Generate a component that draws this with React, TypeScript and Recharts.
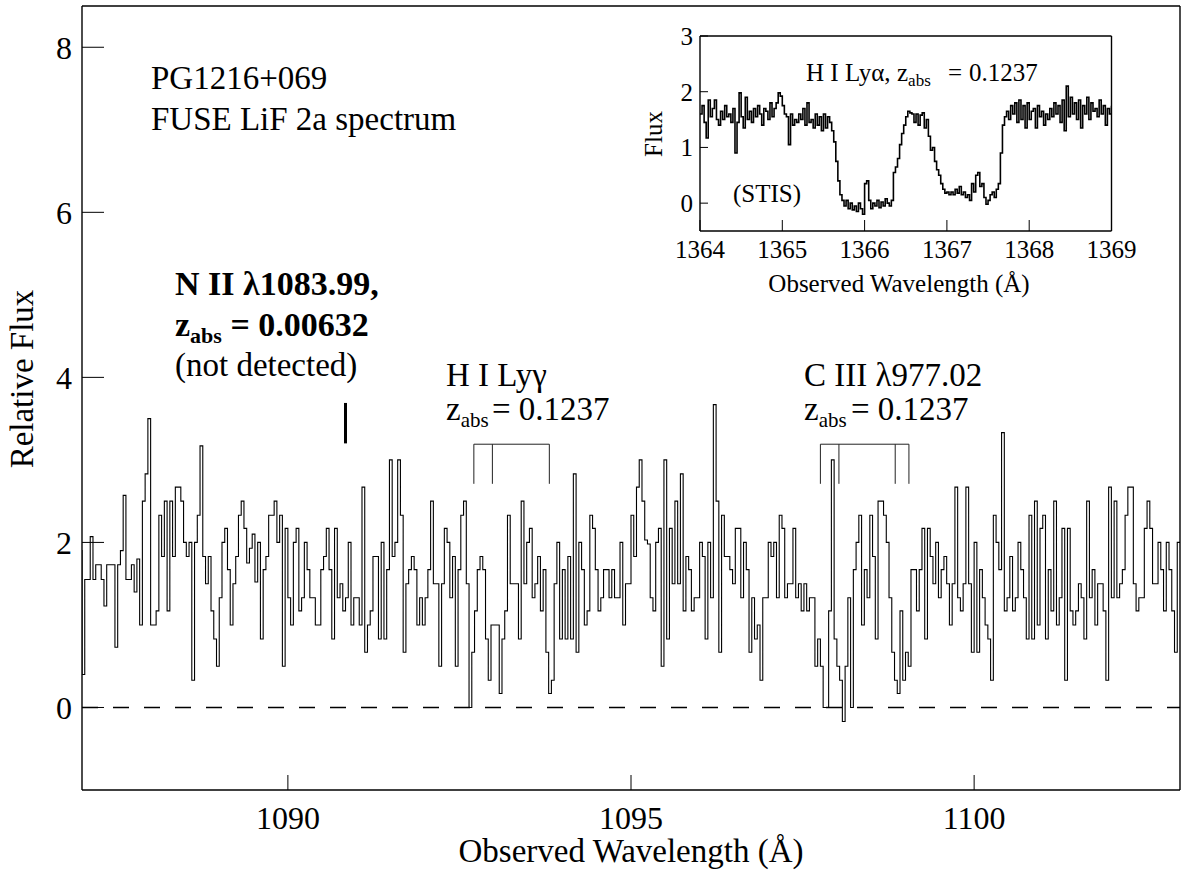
import { LineChart, Line, XAxis, YAxis, ReferenceLine } from 'recharts'

const SERIF = '"Liberation Serif", "Times New Roman", Times, serif'
const W = 1182
const H = 876

// FUSE LiF 2a flux, one value per 0.04 Å bin; first bin starts at 1086.96 Å
const fuseStart = 1086.96
const fuseBin = 0.04
const fuseFlux = [
  1.9,
  0.4, 1.55, 1.55, 2.07, 1.55, 1.73, 1.73, 1.55, 1.23, 1.73, 1.73, 1.73, 0.73, 1.73, 1.9, 2.57, 1.55, 1.55, 1.73, 1.4,
  1.8, 1.0, 2.5, 2.83, 3.5, 1.0, 1.0, 1.17, 2.33, 1.83, 2.5, 1.17, 2.5, 1.83, 2.67, 2.67, 2.5, 2.0, 1.83, 2.0,
  0.33, 2.0, 2.33, 3.17, 1.83, 1.5, 1.83, 1.17, 0.83, 0.5, 1.33, 2.0, 2.17, 1.67, 1.0, 1.5, 1.83, 2.33, 2.5, 2.17,
  1.75, 1.93, 2.1, 1.52, 2.0, 0.83, 1.67, 1.83, 2.33, 2.33, 2.5, 2.0, 2.33, 0.5, 2.17, 1.33, 1.0, 2.0, 2.17, 1.17,
  1.33, 2.0, 1.67, 1.33, 1.33, 1.0, 1.0, 1.67, 1.83, 2.17, 1.67, 0.83, 2.17, 1.33, 1.5, 1.17, 1.33, 2.0, 1.0, 1.33,
  1.33, 1.0, 2.67, 0.67, 1.0, 1.17, 1.83, 1.83, 0.83, 2.0, 0.83, 1.67, 3.0, 1.83, 2.0, 3.0, 2.33, 0.67, 1.5, 1.67,
  1.83, 1.67, 1.0, 1.33, 1.0, 1.33, 1.67, 2.5, 1.5, 1.5, 0.5, 1.5, 2.17, 2.0, 1.33, 1.83, 0.5, 1.67, 2.33, 2.5,
  1.5, 0.0, 0.67, 1.17, 1.67, 1.83, 1.67, 0.83, 0.33, 1.0, 1.0, 1.0, 0.17, 0.83, 1.17, 2.33, 1.5, 1.5, 1.5, 0.83,
  2.5, 1.5, 2.0, 2.17, 1.33, 1.5, 1.83, 1.17, 1.67, 0.67, 0.17, 0.33, 1.5, 2.0, 0.83, 1.67, 0.83, 1.83, 0.83, 2.83,
  0.67, 2.0, 1.67, 1.0, 1.17, 2.33, 2.17, 1.67, 1.17, 1.33, 1.67, 1.67, 1.33, 1.67, 1.33, 1.33, 2.0, 1.0, 1.5, 1.5,
  2.33, 1.83, 2.67, 3.0, 2.5, 2.03, 1.98, 1.33, 1.17, 2.0, 2.17, 0.5, 3.0, 0.83, 2.17, 1.5, 2.5, 1.5, 2.83, 1.17,
  1.83, 1.67, 1.17, 1.33, 1.33, 2.0, 1.83, 0.83, 2.0, 1.33, 3.67, 2.5, 0.67, 2.33, 1.83, 1.83, 1.67, 1.5, 2.17, 2.17,
  1.33, 2.0, 1.67, 0.67, 1.33, 0.83, 1.0, 0.33, 1.33, 1.33, 2.0, 1.83, 2.0, 1.33, 2.33, 2.17, 1.33, 1.5, 1.5, 2.17,
  1.33, 1.5, 1.17, 1.5, 1.17, 1.33, 1.33, 0.5, 0.83, 0.5, 0.0, 0.0, 1.17, 3.0, 0.83, 0.5, 0.33, -0.17, 0.5, 1.33,
  0.0, 1.67, 2.0, 2.33, 1.0, 1.67, 1.33, 2.33, 1.83, 0.83, 2.5, 2.5, 2.33, 2.0, 1.33, 0.67, 0.33, 0.17, 1.17, 0.33,
  0.67, 0.5, 1.67, 1.67, 1.17, 1.67, 2.17, 0.83, 2.17, 1.83, 1.5, 2.0, 1.33, 1.67, 1.83, 1.5, 1.0, 1.5, 2.67, 1.33,
  1.17, 1.5, 2.67, 1.5, 0.67, 2.0, 0.67, 1.67, 1.33, 1.0, 0.83, 0.33, 2.33, 2.0, 1.67, 3.33, 1.17, 1.33, 1.83, 1.17,
  1.33, 2.0, 1.67, 1.33, 0.83, 2.33, 0.83, 2.5, 1.0, 2.17, 2.33, 0.83, 1.67, 1.17, 2.5, 1.0, 1.33, 2.17, 0.33, 2.17,
  1.17, 1.0, 1.17, 1.5, 1.33, 0.83, 2.5, 1.33, 1.67, 1.0, 1.5, 1.5, 1.17, 0.33, 2.67, 1.33, 2.5, 1.33, 1.5, 1.67,
  2.33, 2.67, 2.67, 1.5, 1.17, 1.33, 1.33, 2.17, 2.5, 2.17, 1.5, 1.5, 2.0, 1.67, 1.17, 2.0, 1.67, 1.17, 0.67, 2.0,
  2.0,
]

// STIS Lyα cut-out, one value per 0.025 Å bin from 1364.000 Å
const stisStart = 1364.0
const stisBin = 0.025
const stisFlux = [
  1.6, 1.75, 1.45, 1.17, 1.85, 1.55, 1.7, 1.85, 1.5, 1.4, 1.65, 1.5, 1.75, 1.55, 1.6, 1.45, 1.7, 0.9, 1.45, 1.98,
  1.55, 1.35, 1.9, 1.5, 1.65, 1.45, 1.7, 1.55, 1.75, 1.6, 1.4, 1.7, 1.65, 1.5, 1.8, 1.55, 1.7, 1.8, 1.98, 1.92,
  1.75, 1.6, 1.55, 1.05, 1.6, 1.4, 1.5, 1.45, 1.6, 1.5, 1.7, 1.4, 1.8, 1.45, 1.5, 1.35, 1.6, 1.4, 1.55, 1.3,
  1.6, 1.35, 1.55, 1.45, 1.3, 1.1, 0.75, 0.4, 0.15, 0.05, -0.05, 0.05, -0.1, 0.0, -0.12, -0.05, -0.15, 0.0, -0.1, -0.2,
  0.35, 0.4, 0.05, -0.1, 0.0, -0.05, 0.05, -0.08, 0.02, -0.05, 0.08, 0.0, -0.05, 0.05, 0.55, 0.65, 0.8, 1.05, 1.25, 1.4,
  1.55, 1.65, 1.62, 1.6, 1.45, 1.6, 1.4, 1.58, 1.62, 1.35, 1.5, 1.2, 0.95, 1.0, 0.75, 0.6, 0.5, 0.35, 0.25, 0.18,
  0.2, 0.15, 0.2, 0.15, 0.25, 0.18, 0.3, 0.15, 0.2, 0.1, 0.15, 0.05, 0.35, 0.2, 0.5, 0.55, 0.3, 0.35, 0.1, -0.02,
  0.05, 0.15, 0.2, 0.1, 0.25, 0.35, 0.9, 1.4, 1.55, 1.65, 1.5, 1.75, 1.6, 1.8, 1.45, 1.85, 1.5, 1.75, 1.35, 1.8,
  1.5, 1.65, 1.7, 1.35, 1.75, 1.55, 1.65, 1.4, 1.6, 1.5, 1.7, 1.55, 1.8, 1.6, 1.75, 1.45, 1.85, 1.3, 2.1, 1.55,
  1.9, 1.6, 1.8, 1.5, 1.85, 1.35, 1.75, 1.6, 1.9, 1.5, 1.8, 1.65, 1.7, 1.55, 1.85, 1.6, 1.75, 1.4, 1.7, 1.6,
  1.75,
]

const mainXTicks = [1090, 1095, 1100]
const mainXMinor = [1088, 1089, 1091, 1092, 1093, 1094, 1096, 1097, 1098, 1099, 1101, 1102]
const mainYTicks = [0, 2, 4, 6, 8]
const mainYMinor = [-0.5, 0.5, 1, 1.5, 2.5, 3, 3.5, 4.5, 5, 5.5, 6.5, 7, 7.5]

const insetXTicks = [1364, 1365, 1366, 1367, 1368, 1369]
const insetYTicks = [0, 1, 2, 3]
const insetXMinor = Array.from({ length: 51 }, (_, i) => 1364 + i / 10).filter((_, i) => i % 10 !== 0)

// line markers, Å
const nIIMark = 1090.84
const lyGammaMarks = [1092.71, 1092.98, 1093.81]
const cIIIMarks = [1097.76, 1098.03, 1098.85, 1099.05]
const markTop = 3.19
const markFoot = 2.71

const fuseData = fuseFlux.map((f, i) => ({ w: +(fuseStart + i * fuseBin).toFixed(3), f }))
const stisData = stisFlux.map((f, i) => ({ w: +(stisStart + i * stisBin).toFixed(3), f }))

const tickFont = (size: number) => ({ fill: '#000', fontSize: size, fontFamily: SERIF })
const axisStroke = { stroke: '#000', strokeWidth: 1.4 }
const tickStroke = { stroke: '#000', strokeWidth: 1 }

// every axis is 1px thick so that paired major/minor axes sit on the frame
function MainPanel() {
  const ax = { xAxisId: 'b', yAxisId: 'l' }
  const xDom: [number, number] = [1087, 1103]
  const yDom: [number, number] = [-1, 8.5]
  return (
    <LineChart width={W} height={H} data={fuseData} margin={{ top: 4, right: 0, bottom: 84, left: 80 }}>
      <XAxis xAxisId="b" dataKey="w" type="number" domain={xDom} allowDataOverflow ticks={mainXTicks}
        interval={0} height={1} tickSize={-15} tickMargin={31} axisLine={axisStroke} tickLine={tickStroke}
        tick={tickFont(32)} />
      <XAxis xAxisId="bm" type="number" domain={xDom} allowDataOverflow ticks={mainXMinor} interval={0}
        height={1} tickSize={-8} axisLine={false} tickLine={tickStroke} tick={false} />
      <XAxis xAxisId="t" orientation="top" type="number" domain={xDom} allowDataOverflow ticks={mainXTicks}
        interval={0} height={1} tickSize={-15} axisLine={axisStroke} tickLine={tickStroke} tick={false} />
      <XAxis xAxisId="tm" orientation="top" type="number" domain={xDom} allowDataOverflow ticks={mainXMinor}
        interval={0} height={1} tickSize={-8} axisLine={false} tickLine={tickStroke} tick={false} />
      <YAxis yAxisId="l" type="number" domain={yDom} allowDataOverflow ticks={mainYTicks} interval={0}
        width={1} tickSize={-22} tickMargin={32} axisLine={axisStroke} tickLine={tickStroke} tick={tickFont(32)} />
      <YAxis yAxisId="lm" type="number" domain={yDom} allowDataOverflow ticks={mainYMinor} interval={0}
        width={1} tickSize={-11} axisLine={false} tickLine={tickStroke} tick={false} />
      <YAxis yAxisId="r" orientation="right" type="number" domain={yDom} allowDataOverflow ticks={mainYTicks}
        interval={0} width={1} tickSize={-22} axisLine={axisStroke} tickLine={tickStroke} tick={false} />
      <YAxis yAxisId="rm" orientation="right" type="number" domain={yDom} allowDataOverflow ticks={mainYMinor}
        interval={0} width={1} tickSize={-11} axisLine={false} tickLine={tickStroke} tick={false} />

      <ReferenceLine {...ax} y={0} stroke="#000" strokeWidth={1.5} strokeDasharray="16 15" />

      <ReferenceLine {...ax} stroke="#000" strokeWidth={3}
        segment={[{ x: nIIMark, y: 3.2 }, { x: nIIMark, y: 3.69 }]} />

      <ReferenceLine {...ax} stroke="#222" strokeWidth={1}
        segment={[{ x: lyGammaMarks[0], y: markTop }, { x: lyGammaMarks[lyGammaMarks.length - 1], y: markTop }]} />
      {lyGammaMarks.map((w) => (
        <ReferenceLine key={`g${w}`} {...ax} stroke="#222" strokeWidth={1}
          segment={[{ x: w, y: markTop }, { x: w, y: markFoot }]} />
      ))}
      <ReferenceLine {...ax} stroke="#222" strokeWidth={1}
        segment={[{ x: cIIIMarks[0], y: markTop }, { x: cIIIMarks[cIIIMarks.length - 1], y: markTop }]} />
      {cIIIMarks.map((w) => (
        <ReferenceLine key={`c${w}`} {...ax} stroke="#222" strokeWidth={1}
          segment={[{ x: w, y: markTop }, { x: w, y: markFoot }]} />
      ))}

      <Line {...ax} type="stepAfter" dataKey="f" stroke="#000" strokeWidth={1.1} dot={false} activeDot={false}
        isAnimationActive={false} />
    </LineChart>
  )
}

function InsetPanel() {
  const xDom: [number, number] = [1364, 1369]
  const yDom: [number, number] = [-0.5, 3]
  return (
    <LineChart width={W} height={H} data={stisData} margin={{ top: 34, right: 69.5, bottom: 643, left: 699 }}>
      <XAxis xAxisId="b" dataKey="w" type="number" domain={xDom} allowDataOverflow ticks={insetXTicks}
        interval={0} height={1} tickSize={-11} tickMargin={20} axisLine={axisStroke} tickLine={tickStroke}
        tick={tickFont(25)} />
      <XAxis xAxisId="bm" type="number" domain={xDom} allowDataOverflow ticks={insetXMinor} interval={0}
        height={1} tickSize={-5} axisLine={false} tickLine={tickStroke} tick={false} />
      <XAxis xAxisId="t" orientation="top" type="number" domain={xDom} allowDataOverflow ticks={insetXTicks}
        interval={0} height={1} tickSize={-11} axisLine={axisStroke} tickLine={tickStroke} tick={false} />
      <XAxis xAxisId="tm" orientation="top" type="number" domain={xDom} allowDataOverflow ticks={insetXMinor}
        interval={0} height={1} tickSize={-5} axisLine={false} tickLine={tickStroke} tick={false} />
      <YAxis yAxisId="l" type="number" domain={yDom} allowDataOverflow ticks={insetYTicks} interval={0}
        width={1} tickSize={-8} tickMargin={15} axisLine={axisStroke} tickLine={tickStroke} tick={tickFont(25)} />
      <YAxis yAxisId="r" orientation="right" type="number" domain={yDom} allowDataOverflow ticks={insetYTicks}
        interval={0} width={1} tickSize={-8} axisLine={axisStroke} tickLine={tickStroke} tick={false} />
      <Line xAxisId="b" yAxisId="l" type="stepAfter" dataKey="f" stroke="#000" strokeWidth={1.6} dot={false}
        activeDot={false} isAnimationActive={false} />
    </LineChart>
  )
}

function Labels() {
  return (
    <svg width={W} height={H} style={{ position: 'absolute', left: 0, top: 0 }} fontFamily={SERIF} fill="#000">
      <text x={151} y={89} fontSize={33}>PG1216+069</text>
      <text x={151} y={130} fontSize={33}>FUSE LiF 2a spectrum</text>

      <text x={175} y={295} fontSize={34} fontWeight="bold">N II λ1083.99,</text>
      <text x={175} y={336} fontSize={34} fontWeight="bold">
        z<tspan dy={7} fontSize={22}>abs</tspan><tspan dy={-7}> = 0.00632</tspan>
      </text>
      <text x={175} y={376} fontSize={33}>(not detected)</text>

      <text x={446} y={386} fontSize={33}>H I Lyγ</text>
      <text x={446} y={420} fontSize={33}>
        z<tspan dy={7} fontSize={21}>abs</tspan><tspan x={492} dy={-7}>= 0.1237</tspan>
      </text>

      <text x={804} y={386} fontSize={33}>C III λ977.02</text>
      <text x={804} y={420} fontSize={33}>
        z<tspan dy={7} fontSize={21}>abs</tspan><tspan x={851} dy={-7}>= 0.1237</tspan>
      </text>

      <text x={631} y={862} fontSize={33} textAnchor="middle">Observed Wavelength (Å)</text>
      <text transform="rotate(-90)" x={-379} y={33} fontSize={33} textAnchor="middle">Relative Flux</text>

      <text x={806} y={81} fontSize={25}>
        H I Lyα,<tspan x={897}>z</tspan><tspan dy={5} fontSize={17}>abs</tspan>
        <tspan x={948} dy={-5}>=</tspan><tspan x={969}>0.1237</tspan>
      </text>
      <text x={733} y={202} fontSize={25}>(STIS)</text>
      <text x={899} y={292} fontSize={25} textAnchor="middle">Observed Wavelength (Å)</text>
      <text transform="rotate(-90)" x={-134} y={662} fontSize={25} textAnchor="middle">Flux</text>
    </svg>
  )
}

export default function App() {
  return (
    <div style={{ position: 'absolute', left: 0, top: 0, width: W, height: H, background: '#fff' }}>
      <div style={{ position: 'absolute', left: 0, top: 0 }}>
        <MainPanel />
      </div>
      <div style={{ position: 'absolute', left: 0, top: 0 }}>
        <InsetPanel />
      </div>
      <Labels />
    </div>
  )
}
